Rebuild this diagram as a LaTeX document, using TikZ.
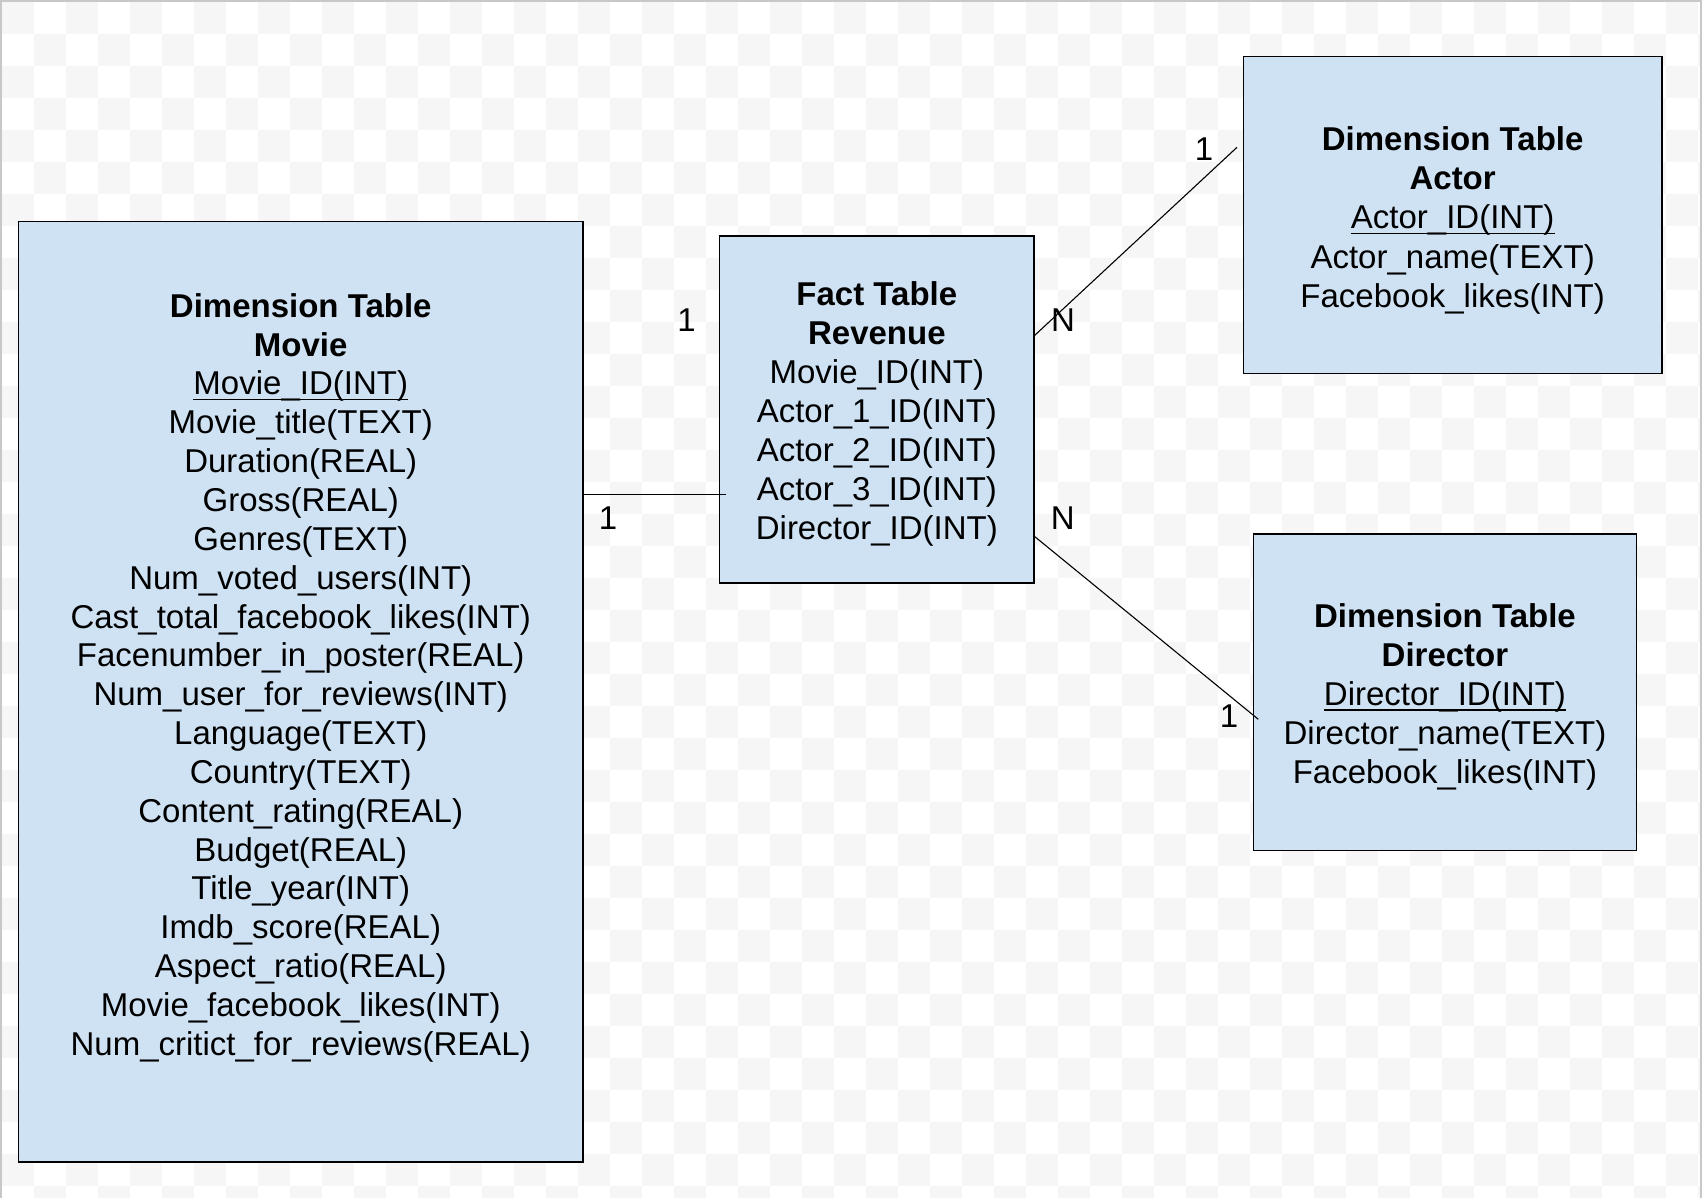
\documentclass[tikz,border=0pt]{standalone}
\usepackage{fontspec}
\setmainfont{Liberation Sans}
\definecolor{boxfill}{HTML}{CFE2F3}
\definecolor{chkgray}{HTML}{F6F6F6}
\definecolor{framegray}{HTML}{C8C8C8}
\tikzset{
  tbl/.style={draw=black, line width=1.4pt, fill=boxfill, rectangle, inner sep=0pt},
  txt/.style={anchor=base, inner sep=0pt, font=\fontsize{33}{39}\selectfont},
  lbl/.style={anchor=base, inner sep=0pt, font=\fontsize{33}{39}\selectfont},
  conn/.style={draw=black, line width=1.1pt},
  uline/.style={draw=black, line width=1.6pt}
}
\begin{document}
\begin{tikzpicture}[x=1pt,y=-1pt]
\useasboundingbox (0,0) rectangle (1702,1198);
% background checkerboard and frame
\begin{scope}
\clip (0,0) rectangle (1702,1198);
\fill[white] (0,0) rectangle (1702,1198);
\foreach \i in {0,2,...,52} {
  \foreach \j in {0,2,...,36} {
    \fill[chkgray] (2+32*\i,2+32*\j) rectangle ++(32,32);
    \fill[chkgray] (34+32*\i,34+32*\j) rectangle ++(32,32);
  }
}
\fill[framegray] (0,0) rectangle (2,1198);
\fill[framegray] (0,0) rectangle (1702,2);
\fill[framegray] (1700,0) rectangle (1702,1198);
\end{scope}

% tables
\node[tbl, minimum width=564.5, minimum height=940.3] (movie) at (300.75,691.85) {};
\node[tbl, minimum width=314.3, minimum height=347] (fact) at (876.85,409.5) {};
\node[tbl, minimum width=418.7, minimum height=316.6] (actor) at (1452.65,215) {};
\node[tbl, minimum width=383.1, minimum height=316.7] (director) at (1444.95,692.35) {};

% movie text
\foreach \t [count=\k from 0] in {{\bfseries Dimension Table},{\bfseries Movie},{Movie\_ID(INT)},{Movie\_title(TEXT)},{Duration(REAL)},{Gross(REAL)},{Genres(TEXT)},{Num\_voted\_users(INT)},{Cast\_total\_facebook\_likes(INT)},{Facenumber\_in\_poster(REAL)},{Num\_user\_for\_reviews(INT)},{Language(TEXT)},{Country(TEXT)},{Content\_rating(REAL)},{Budget(REAL)},{Title\_year(INT)},{Imdb\_score(REAL)},{Aspect\_ratio(REAL)},{Movie\_facebook\_likes(INT)},{Num\_critict\_for\_reviews(REAL)}}
  {\node[txt] (mv\k) at (300.75,317.2+38.85*\k) {\t};}
\draw[uline] ([yshift=-4.5pt]mv2.base west) -- ([yshift=-4.5pt]mv2.base east);

% fact text
\foreach \t [count=\k from 0] in {{\bfseries Fact Table},{\bfseries Revenue},{Movie\_ID(INT)},{Actor\_1\_ID(INT)},{Actor\_2\_ID(INT)},{Actor\_3\_ID(INT)},{Director\_ID(INT)}}
  {\node[txt] (ft\k) at (876.85,305.5+39.05*\k) {\t};}

% actor text
\foreach \t [count=\k from 0] in {{\bfseries Dimension Table},{\bfseries Actor},{Actor\_ID(INT)},{Actor\_name(TEXT)},{Facebook\_likes(INT)}}
  {\node[txt] (ac\k) at (1452.65,150.8+39.1*\k) {\t};}
\draw[uline] ([yshift=-4.5pt]ac2.base west) -- ([yshift=-4.5pt]ac2.base east);

% director text
\foreach \t [count=\k from 0] in {{\bfseries Dimension Table},{\bfseries Director},{Director\_ID(INT)},{Director\_name(TEXT)},{Facebook\_likes(INT)}}
  {\node[txt] (dr\k) at (1444.95,627.5+38.9*\k) {\t};}
\draw[uline] ([yshift=-4.5pt]dr2.base west) -- ([yshift=-4.5pt]dr2.base east);

% connectors
\coordinate (fm) at (726,494.3);
\coordinate (fa) at (1034,336);
\coordinate (ae) at (1237,147.3);
\coordinate (fd) at (1034,536);
\coordinate (de) at (1258.3,719.3);
\draw[conn] (movie.east |- fm) -- (fm);
\draw[conn] (fa) -- (ae);
\draw[conn] (fd) -- (de);

% cardinality labels
\node[lbl] (l1) at (686.6,331) {1};
\node[lbl] (l2) at (608,529.3) {1};
\node[lbl] (l3) at (1204,160.3) {1};
\node[lbl] (l4) at (1063,331.5) {N};
\node[lbl] (l5) at (1062.7,529.3) {N};
\node[lbl] (l6) at (1229,727.7) {1};
\end{tikzpicture}
\end{document}
